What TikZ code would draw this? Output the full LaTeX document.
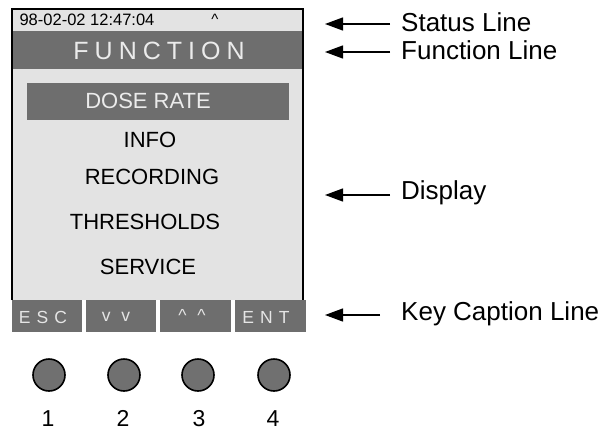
\documentclass[tikz,border=0pt]{standalone}
\usepackage{fontspec}
\setmainfont{Liberation Sans}
\usetikzlibrary{arrows.meta}
\definecolor{darkg}{HTML}{6E6E6E}
\definecolor{lightg}{HTML}{E3E3E3}
\definecolor{btn}{HTML}{707070}
\begin{document}
\begin{tikzpicture}[x=1pt,y=-1pt,
  menu/.style={font=\fontsize{22}{22}\selectfont, inner sep=0pt},
  keytxt/.style={font=\fontsize{17.5}{17.5}\selectfont\addfontfeatures{LetterSpace=35}, text=white!90!black, inner sep=0pt},
  keybox/.style={fill=darkg, draw=none},
  lbl/.style={font=\fontsize{26}{26}\selectfont, anchor=west, inner sep=0pt},
  pointer/.style={line width=1.3pt, -{Triangle[length=18pt,width=13pt]}},
  button/.style={circle, draw=black, line width=1.6pt, fill=btn, minimum size=32pt, inner sep=0pt},
  num/.style={font=\fontsize{23}{23}\selectfont, inner sep=0pt, anchor=base}]
\useasboundingbox (0,0) rectangle (602,431);
% display background
\fill[lightg] (12,9) rectangle (303,300);
% function bar
\fill[darkg] (12,31) rectangle (303,69);
% dose rate highlight
\fill[darkg] (27,83) rectangle (289,120);
% frame
\draw[line width=1.3pt] (12,300) -- (12,9) -- (303,9) -- (303,300);
% key caption bar
\fill[keybox] (12,300) rectangle (82,332);
\fill[keybox] (86,300) rectangle (156,332);
\fill[keybox] (160,300) rectangle (231,332);
\fill[keybox] (235,300) rectangle (306,332);
% texts
\node[inner sep=0pt, font=\fontsize{16.5}{16.5}\selectfont] (status) at (87,20) {98-02-02 12:47:04};
\node[inner sep=0pt, font=\fontsize{15}{15}\selectfont] (caret) at (215,19) {\^{}};
\node[inner sep=0pt, text=white!92!black, font=\fontsize{25}{25}\selectfont\addfontfeatures{LetterSpace=24}] (func) at (159,51) {FUNCTION};
\node[menu, text=white!92!black] (dose) at (148,101) {DOSE RATE};
\node[menu] (info) at (150,140) {INFO};
\node[menu] (rec) at (152,177) {RECORDING};
\node[menu] (thr) at (145,222) {THRESHOLDS};
\node[menu] (serv) at (148,267) {SERVICE};
\node[keytxt] (esc) at (43,317) {ESC};
\node[keytxt] (vv) at (116,317) {v v};
\node[keytxt] (up) at (192,315) {\^{} \^{}};
\node[keytxt] (ent) at (266,317) {ENT};
% buttons
\node[button] (b1) at (49,375) {};
\node[button] (b2) at (124,375) {};
\node[button] (b3) at (198,375) {};
\node[button] (b4) at (274,375) {};
\node[num] (n1) at (48,426) {1};
\node[num] (n2) at (123,426) {2};
\node[num] (n3) at (199,426) {3};
\node[num] (n4) at (273,426) {4};
% labels
\node[lbl] (lstatus) at (401,22) {Status Line};
\node[lbl] (lfunc) at (401,50) {Function Line};
\node[lbl] (ldisp) at (401,193) {Display};
\node[lbl] (lkey) at (401,314) {Key Caption Line};
\coordinate (t1) at (325,24);
\coordinate (t2) at (325,52);
\coordinate (t3) at (325,195);
\coordinate (t4) at (325,315);
\draw[pointer] (390,24) -- (t1);
\draw[pointer] (390,52) -- (t2);
\draw[pointer] (390,195) -- (t3);
\draw[pointer] (380,315) -- (t4);
\end{tikzpicture}
\end{document}
